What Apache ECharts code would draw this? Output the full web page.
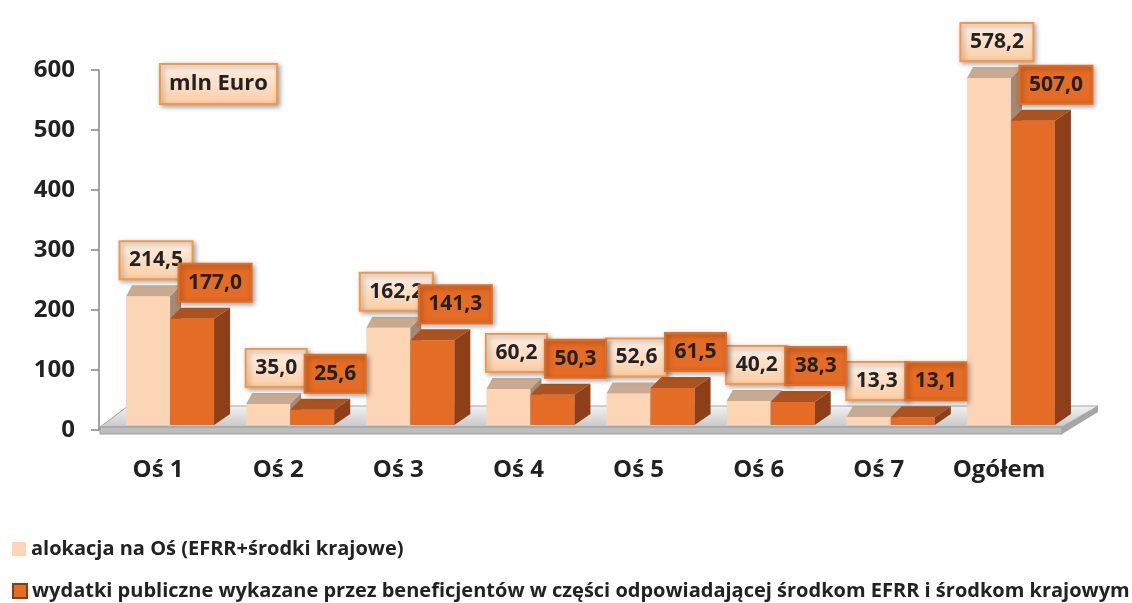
<!DOCTYPE html>
<html>
<head>
<meta charset="utf-8">
<script src="https://cdn.jsdelivr.net/npm/echarts@6/dist/echarts.min.js"></script>
<style>html,body{margin:0;padding:0;background:#fff}#c{width:1132px;height:603px}</style>
</head>
<body>
<div id="c"></div>
<script>
const categories = ['Oś 1', 'Oś 2', 'Oś 3', 'Oś 4', 'Oś 5', 'Oś 6', 'Oś 7', 'Ogółem'];
const allocation = [214.5, 35.0, 162.2, 60.2, 52.6, 40.2, 13.3, 578.2];
const expenditure = [177.0, 25.6, 141.3, 50.3, 61.5, 38.3, 13.1, 507.0];
const seriesNames = ['alokacja na Oś (EFRR+środki krajowe)',
  'wydatki publiczne wykazane przez beneficjentów w części odpowiadającej środkom EFRR i środkom krajowym'];
const unitLabel = 'mln Euro';
const yMin = 0, yMax = 600, yStep = 100;

const FONT = '"Open Sans", Lato, sans-serif';
const TXT = '#222222';
const BAR_W = 44, DEPTH_Y = 11, LIFT = 5;
const LABEL_FONT = 'bold 21px ' + FONT;
const UNIT_FONT = 'bold 22px ' + FONT;
const cvs = document.createElement('canvas').getContext('2d');
function measure(t, f) { cvs.font = f; return cvs.measureText(t).width; }
function fmt(v) { return v.toFixed(1).replace('.', ','); }

const lightGrad = () => new echarts.graphic.LinearGradient(0, 0, 0, 1, [{offset: 0, color: '#fef0e6'}, {offset: 1, color: '#fbcda4'}]);
const palettes = [
  { front: '#fcd5b4', top: '#c8aa92', side: '#a48871', box: lightGrad(), border: '#f79646', dx: 8 },
  { front: '#e46c24', top: '#ab521f', side: '#8c3f18', box: '#e46c24', border: '#e46c24', dx: 23 }
];

function makeRender(side) {
  const p = palettes[side];
  return function (params, api) {
    const idx = api.value(0), val = api.value(1);
    const base = api.coord([idx, 0]);
    const topPt = api.coord([idx, val]);
    const cx = base[0];
    const y0 = base[1] - LIFT, y1 = topPt[1] - LIFT;
    const pairLeft = cx - BAR_W;
    const x0 = side === 0 ? cx - BAR_W : cx;
    const x1 = x0 + BAR_W;
    const sh = x => 6 + (x - pairLeft) * 10 / (2 * BAR_W);
    const text = fmt(val);
    const w = measure(text, LABEL_FONT) + 19, h = 38;
    const lx = (x0 + x1) / 2 + p.dx;
    const lb = y1 - 17;
    return {
      type: 'group',
      children: [
        { type: 'rect', shape: { x: x0, y: y1, width: BAR_W, height: y0 - y1 }, style: { fill: p.front } },
        { type: 'polygon', shape: { points: [[x0, y1], [x1, y1], [x1 + sh(x1), y1 - DEPTH_Y], [x0 + sh(x0), y1 - DEPTH_Y]] }, style: { fill: p.top } },
        { type: 'polygon', shape: { points: [[x1, y1], [x1 + sh(x1), y1 - DEPTH_Y], [x1 + sh(x1), y0 - DEPTH_Y], [x1, y0]] }, style: { fill: p.side } },
        { type: 'rect', shape: { x: lx - w / 2, y: lb - h, width: w, height: h },
          style: { fill: p.box, stroke: p.border, lineWidth: 2, shadowBlur: 5, shadowOffsetX: 2, shadowOffsetY: 2, shadowColor: 'rgba(0,0,0,0.35)' } },
        { type: 'text', x: lx, y: lb - h / 2,
          style: { text: text, font: LABEL_FONT, fill: TXT, align: 'center', verticalAlign: 'middle' } }
      ]
    };
  };
}

const legendText = { fontFamily: FONT, fontWeight: 'bold', fontSize: 20, color: TXT, lineHeight: 20 };
const chart = echarts.init(document.getElementById('c'), null, { renderer: 'canvas' });
const unitW = 117;
chart.setOption({
  animation: false,
  backgroundColor: '#ffffff',
  grid: { left: 110, right: 61, top: 70, bottom: 173, containLabel: false },
  xAxis: {
    type: 'category', data: categories,
    axisLine: { show: false }, axisTick: { show: false },
    axisLabel: { interval: 0, margin: 28, padding: [0, 24, 0, 0], fontFamily: FONT, fontWeight: 'bold', fontSize: 24, color: TXT }
  },
  yAxis: {
    type: 'value', min: yMin, max: yMax, interval: yStep, offset: 11,
    splitLine: { show: false },
    axisLine: { show: true, lineStyle: { color: '#868686', width: 1.5 } },
    axisTick: { show: true, length: 8, lineStyle: { color: '#868686', width: 1.5 } },
    axisLabel: { margin: 24, fontFamily: FONT, fontWeight: 'bold', fontSize: 24, color: TXT }
  },
  legend: [
    { orient: 'vertical', left: 12, top: 539, padding: 0, itemWidth: 14, itemHeight: 14, itemGap: 4, icon: 'rect',
      textStyle: legendText,
      data: [{ name: seriesNames[0], itemStyle: { color: '#fcd5b4', borderWidth: 0 } }] },
    { orient: 'vertical', left: 12, top: 581, padding: 0, itemWidth: 14, itemHeight: 14, itemGap: 4, icon: 'rect',
      textStyle: legendText,
      data: [{ name: seriesNames[1], itemStyle: { color: '#e46c24', borderColor: '#8a3c14', borderWidth: 2 } }] }
  ],
  graphic: [
    { type: 'polygon', z: 0, shape: { points: [[100, 427], [1062, 427], [1098, 406], [128, 406]] },
      style: { fill: new echarts.graphic.LinearGradient(0, 0, 0, 1, [{offset: 0, color: '#f2f2f2'}, {offset: 1, color: '#c8c8c8'}]), stroke: '#a6a6a6', lineWidth: 1 } },
    { type: 'polygon', z: 0, shape: { points: [[100, 427], [1062, 427], [1062, 434], [100, 434]] },
      style: { fill: '#bdbdbd', stroke: '#9a9a9a', lineWidth: 1 } },
    { type: 'polygon', z: 0, shape: { points: [[1062, 427], [1098, 406], [1098, 412], [1062, 434]] },
      style: { fill: '#a6a6a6' } },
    { type: 'rect', z: 10, shape: { x: 160, y: 64, width: unitW, height: 40 },
      style: { fill: lightGrad(), stroke: '#f79646', lineWidth: 2, shadowBlur: 5, shadowOffsetX: 2, shadowOffsetY: 2, shadowColor: 'rgba(0,0,0,0.35)' } },
    { type: 'text', z: 11, x: 160 + unitW / 2, y: 84,
      style: { text: unitLabel, font: UNIT_FONT, fill: TXT, align: 'center', verticalAlign: 'middle' } }
  ],
  series: [
    { name: seriesNames[0], type: 'custom', itemStyle: { color: '#fcd5b4' },
      renderItem: makeRender(0), data: allocation.map((v, i) => [i, v]) },
    { name: seriesNames[1], type: 'custom', itemStyle: { color: '#e46c24' },
      renderItem: makeRender(1), data: expenditure.map((v, i) => [i, v]) }
  ]
});
</script>
</body>
</html>
